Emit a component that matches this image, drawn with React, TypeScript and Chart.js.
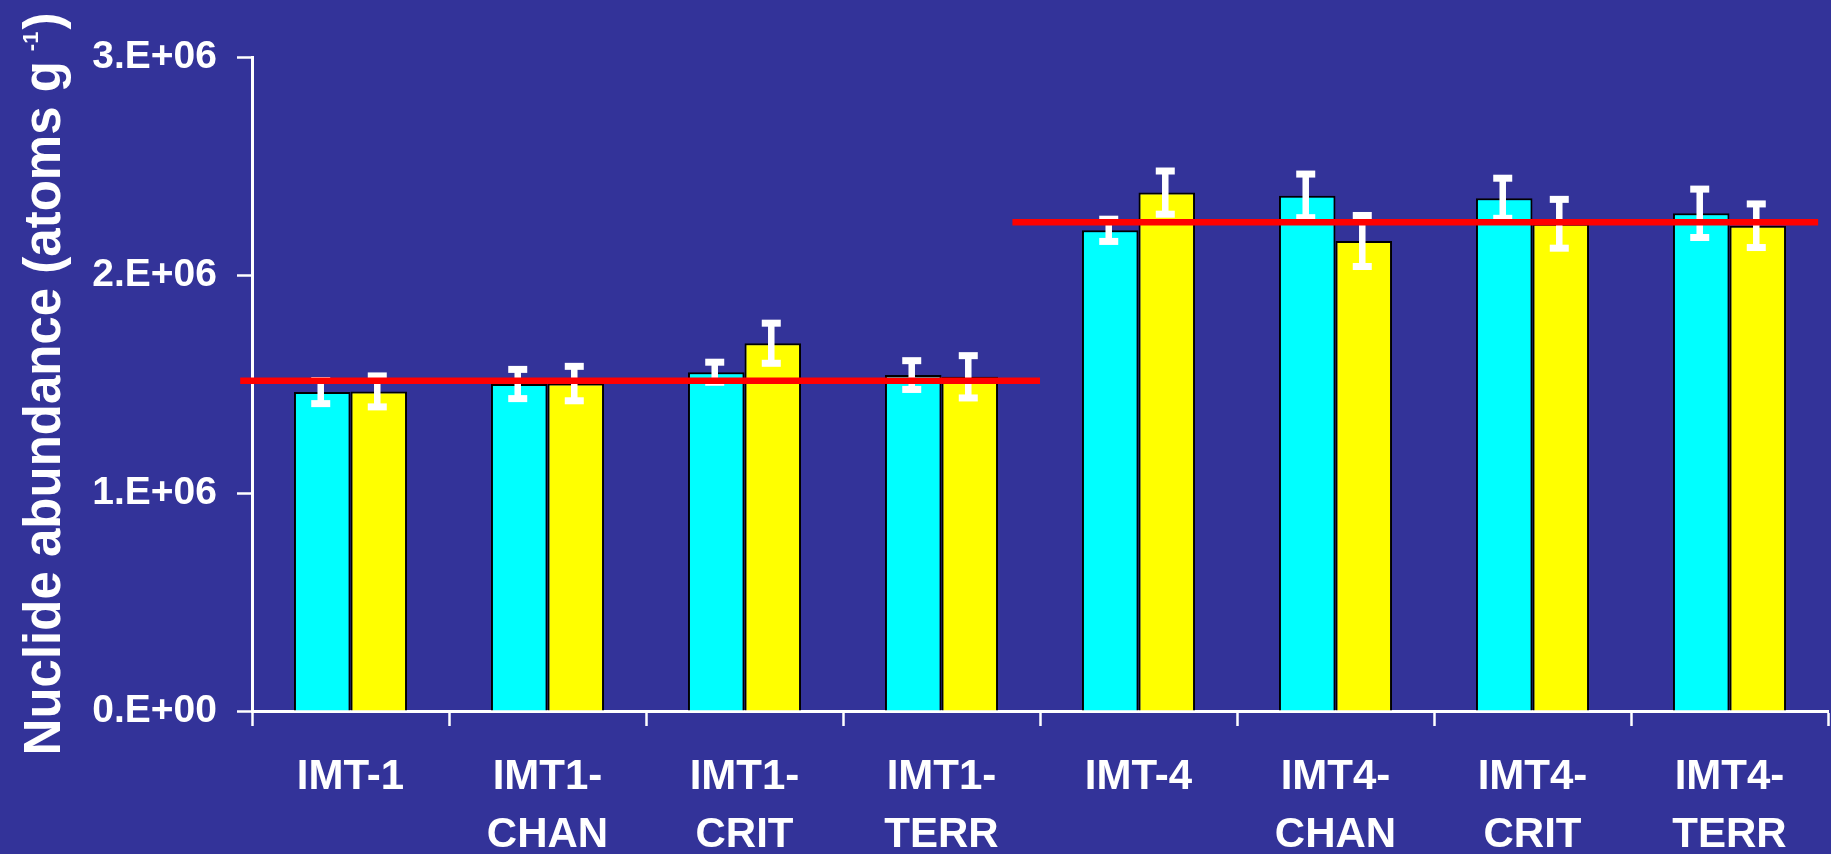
import React, { useEffect, useRef } from "react";
import { Chart, registerables } from "chart.js";

Chart.register(...registerables);

// ---------- data ----------
const categories: (string | string[])[] = [
  "IMT-1",
  ["IMT1-", "CHAN"],
  ["IMT1-", "CRIT"],
  ["IMT1-", "TERR"],
  "IMT-4",
  ["IMT4-", "CHAN"],
  ["IMT4-", "CRIT"],
  ["IMT4-", "TERR"],
];

const cyanValues = [1463000, 1500000, 1554000, 1541000, 2205000, 2363000, 2352000, 2283000];
const cyanErrors = [53000, 67000, 46000, 66000, 51000, 100000, 92000, 111000];

const yellowValues = [1466000, 1502000, 1687000, 1533000, 2378000, 2156000, 2235000, 2226000];
const yellowErrors = [71000, 79000, 92000, 97000, 99000, 117000, 112000, 100000];

// mean lines (x in category-index units, y in atoms/g)
const meanLine1X = [-0.56, 3.5];
const meanLine1Y = 1515000;
const meanLine2X = [3.36, 7.45];
const meanLine2Y = 2242000;

const yTickValues = [0, 1000000, 2000000, 3000000];
const yTickLabels = ["0.E+00", "1.E+06", "2.E+06", "3.E+06"];

const yTitleMain = "Nuclide abundance (atoms g";
const yTitleSup = "-1";
const yTitleEnd = ")";

// ---------- styles ----------
const BG = "#333399";
const FONT = '"Liberation Sans", Arial, sans-serif';

const errorBarPlugin = {
  id: "errorBars",
  afterDatasetDraw(chart: any, args: any) {
    const ds: any = chart.data.datasets[args.index];
    if (!ds.errors) return;
    const yScale = chart.scales.y;
    const ctx = chart.ctx;
    const stemW = 6.5;
    const capW = 19;
    const capH = 7;
    ctx.save();
    ctx.fillStyle = "#ffffff";
    args.meta.data.forEach((bar: any, i: number) => {
      const v = ds.data[i];
      const e = ds.errors[i];
      const yt = yScale.getPixelForValue(v + e);
      const yb = yScale.getPixelForValue(v - e);
      const x = bar.x - 1.5;
      ctx.fillRect(x - stemW / 2, yt, stemW, yb - yt);
      ctx.fillRect(x - capW / 2, yt - capH / 2, capW, capH);
      ctx.fillRect(x - capW / 2, yb - capH / 2, capW, capH);
    });
    ctx.restore();
  },
};

const meanLinePlugin = {
  id: "meanLines",
  afterDatasetsDraw(chart: any) {
    const xs = chart.scales.x;
    const ys = chart.scales.y;
    const ctx = chart.ctx;
    ctx.save();
    ctx.strokeStyle = "#ff0000";
    ctx.lineWidth = 6.5;
    ctx.lineCap = "butt";
    const lines: [number[], number][] = [
      [meanLine1X, meanLine1Y],
      [meanLine2X, meanLine2Y],
    ];
    lines.forEach(([xr, yv]) => {
      const y = ys.getPixelForValue(yv);
      ctx.beginPath();
      ctx.moveTo(xs.getPixelForValue(xr[0]), y);
      ctx.lineTo(xs.getPixelForValue(xr[1]), y);
      ctx.stroke();
    });
    ctx.restore();
  },
};

const yTitlePlugin = {
  id: "yTitle",
  afterDraw(chart: any) {
    const ctx = chart.ctx;
    const ca = chart.chartArea;
    const cy = (ca.top + ca.bottom) / 2;
    const baseX = 59.5;
    const gapBefore = 10;
    const gapAfter = 2;
    const mainFont = `bold 51px ${FONT}`;
    const supFont = `bold 22px ${FONT}`;
    ctx.save();
    ctx.translate(baseX, cy);
    ctx.rotate(-Math.PI / 2);
    ctx.fillStyle = "#ffffff";
    ctx.textBaseline = "alphabetic";
    ctx.textAlign = "left";
    ctx.font = mainFont;
    const w1 = ctx.measureText(yTitleMain).width;
    const w3 = ctx.measureText(yTitleEnd).width;
    ctx.font = supFont;
    const w2 = ctx.measureText(yTitleSup).width;
    let x = -(w1 + gapBefore + w2 + gapAfter + w3) / 2;
    ctx.font = mainFont;
    ctx.fillText(yTitleMain, x, 0);
    x += w1 + gapBefore;
    ctx.font = supFont;
    ctx.fillText(yTitleSup, x, -22);
    x += w2 + gapAfter;
    ctx.font = mainFont;
    ctx.fillText(yTitleEnd, x, 0);
    ctx.restore();
  },
};

export default function App() {
  const canvasRef = useRef<HTMLCanvasElement | null>(null);

  useEffect(() => {
    if (!canvasRef.current) return;
    const chart = new Chart(canvasRef.current, {
      type: "bar",
      data: {
        labels: categories as any,
        datasets: [
          {
            label: "cyan",
            data: cyanValues,
            errors: cyanErrors,
            backgroundColor: "#00ffff",
            borderColor: "#000000",
            borderWidth: 2,
          } as any,
          {
            label: "yellow",
            data: yellowValues,
            errors: yellowErrors,
            backgroundColor: "#ffff00",
            borderColor: "#000000",
            borderWidth: 2,
          } as any,
        ],
      },
      options: {
        animation: false,
        responsive: true,
        maintainAspectRatio: false,
        layout: { padding: { left: 0, top: 57, right: 3, bottom: 0 } },
        datasets: {
          bar: { categoryPercentage: 0.574, barPercentage: 1.0 },
        },
        plugins: {
          legend: { display: false },
          tooltip: { enabled: false },
          title: { display: false },
        },
        scales: {
          x: {
            type: "category",
            position: "bottom",
            offset: true,
            grid: {
              display: true,
              offset: true,
              drawOnChartArea: false,
              drawTicks: true,
              tickLength: 15,
              tickWidth: 2.5,
              tickColor: "#ffffff",
              color: "#ffffff",
            },
            border: { display: true, color: "#ffffff", width: 3 },
            ticks: {
              color: "#ffffff",
              padding: 22,
              maxRotation: 0,
              autoSkip: false,
              font: { family: FONT, size: 42, weight: "bold", lineHeight: 1.39 },
            },
            afterFit: (scale: any) => {
              scale.height = 143;
            },
          },
          y: {
            type: "linear",
            min: 0,
            max: 3000000,
            grid: {
              display: true,
              drawOnChartArea: false,
              drawTicks: true,
              tickLength: 15,
              tickWidth: 2.5,
              tickColor: "#ffffff",
              color: "#ffffff",
            },
            border: { display: true, color: "#ffffff", width: 3 },
            ticks: {
              stepSize: 1000000,
              color: "#ffffff",
              padding: 20,
              font: { family: FONT, size: 39, weight: "bold" },
              callback: (v: any) => {
                const idx = yTickValues.indexOf(Number(v));
                return idx >= 0 ? yTickLabels[idx] : "";
              },
            },
            afterFit: (scale: any) => {
              scale.width = 252;
            },
          },
        },
      } as any,
      plugins: [errorBarPlugin, meanLinePlugin, yTitlePlugin],
    });
    return () => chart.destroy();
  }, []);

  return (
    <div
      style={{
        position: "fixed",
        left: 0,
        top: 0,
        width: "1831px",
        height: "854px",
        background: BG,
      }}
    >
      <canvas ref={canvasRef} />
    </div>
  );
}
